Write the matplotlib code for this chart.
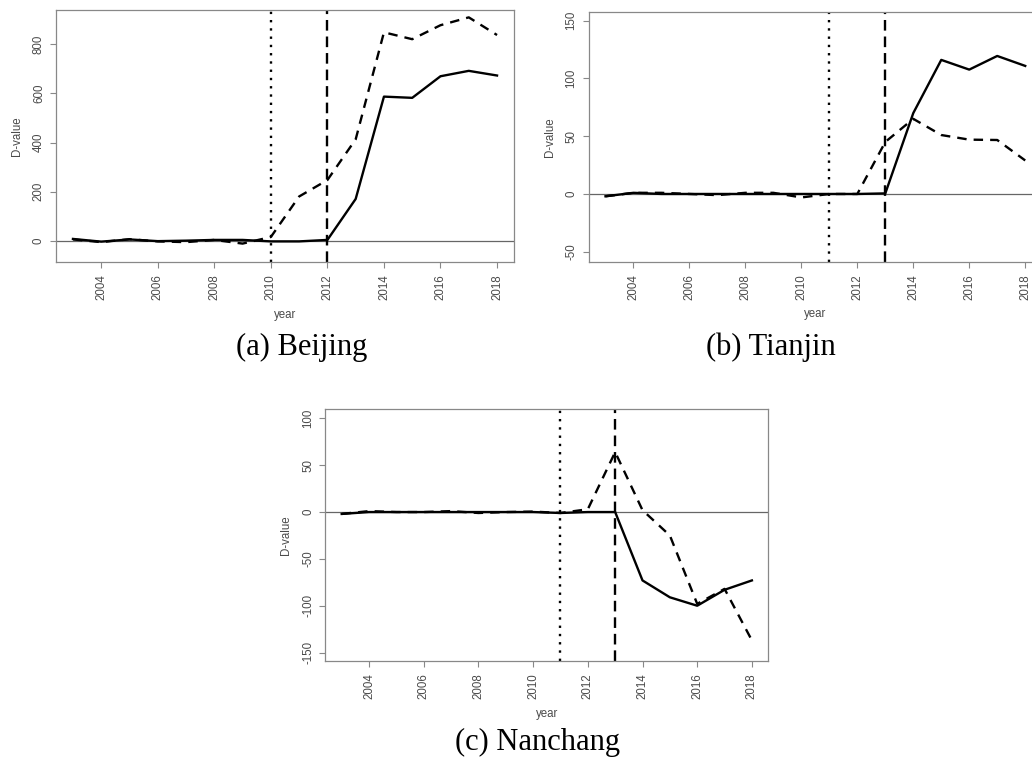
import matplotlib
matplotlib.use("Agg")
import matplotlib.pyplot as plt

years = list(range(2003, 2019))

# Beijing
bj_solid = [7, -4, 5, -2, 0, 3, 3, -3, -3, 3, 170, 587, 582, 670, 692, 673]
bj_dash = [5, -6, 6, -3, -6, 3, -12, 15, 180, 247, 413, 849, 821, 878, 910, 838]
# Tianjin
tj_solid = [-2, 1, 0, 0, 0, 0, 0, 0, 0, 0, 0.5, 70, 116, 107.6, 119.4, 110.8]
tj_dash = [-2, 1, 1, 0, -1, 1, 1, -3, 0, 0, 45, 65, 51, 47, 46.7, 29]
# Nanchang
nc_solid = [-2, 0, 0, 0, 0, 0, 0, 0, -1, 0, 0, -73, -91, -100, -83, -73]
nc_dash = [-2, 1, 0, 0, 1, -1, 0, 0.5, -1, 3, 64, 2, -25, -98, -82, -137]

captions = ["(a) Beijing", "(b) Tianjin", "(c) Nanchang"]
dotted_years = [2010, 2011, 2011]
dashed_years = [2012, 2013, 2013]
yticks_list = [[0, 200, 400, 600, 800], [-50, 0, 50, 100, 150], [-150, -100, -50, 0, 50, 100]]
ylims = [(-87, 940), (-58.6, 157.7), (-159, 110)]
xticks = list(range(2004, 2019, 2))

W, H = 1032, 758
fig = plt.figure(figsize=(W / 100, H / 100), dpi=100)

# axes boxes in pixels: left, top, right, bottom
boxes = [(56, 10, 514, 262), (588.7, 11.7, 1042, 261.7), (325.3, 409, 768.3, 661)]
cap_pos = [(302, 355), (771, 355), (538, 750)]
series = [(bj_solid, bj_dash), (tj_solid, tj_dash), (nc_solid, nc_dash)]

tick_col = "#4a4a4a"
spine_col = "#888888"
for i, (l, t, r, b) in enumerate(boxes):
    ax = fig.add_axes([l / W, 1 - b / H, (r - l) / W, (b - t) / H])
    s, d = series[i]
    ax.axhline(0, color="#666666", lw=0.9, zorder=1)
    ax.plot(years, s, color="black", lw=1.7, zorder=3)
    ax.plot(years, d, color="black", lw=1.7, linestyle=(0, (4, 3)), zorder=3)
    ax.axvline(dotted_years[i], color="black", lw=1.7, linestyle=(0, (1, 2.5)), zorder=2)
    ax.axvline(dashed_years[i], color="black", lw=1.7, linestyle=(0, (4.5, 2.5)), zorder=2)
    ax.set_xlim(2002.4, 2018.6)
    ax.set_ylim(*ylims[i])
    ax.set_xticks(xticks)
    ax.set_xticklabels([str(x) for x in xticks], rotation=90, fontsize=8.3,
                       color=tick_col, family="Liberation Sans")
    ax.set_yticks(yticks_list[i])
    ax.set_yticklabels([str(v) for v in yticks_list[i]], rotation=90, va="center",
                       fontsize=8.3, color=tick_col, family="Liberation Sans")
    ax.tick_params(axis="both", length=4, width=0.8, color=spine_col, pad=5)
    ax.tick_params(axis="y", pad=4)
    for sp in ax.spines.values():
        sp.set_color(spine_col)
        sp.set_linewidth(0.9)
    ax.set_xlabel("year", fontsize=8.3, color=tick_col, family="Liberation Sans", labelpad=6)
    ax.set_ylabel("D-value", fontsize=8.3, color=tick_col, family="Liberation Sans", labelpad=7)
    cx, cy = cap_pos[i]
    fig.text(cx / W, 1 - cy / H, captions[i], ha="center", va="baseline",
             fontsize=22, family="Liberation Serif", color="black")

fig.savefig("out.png", dpi=100)
